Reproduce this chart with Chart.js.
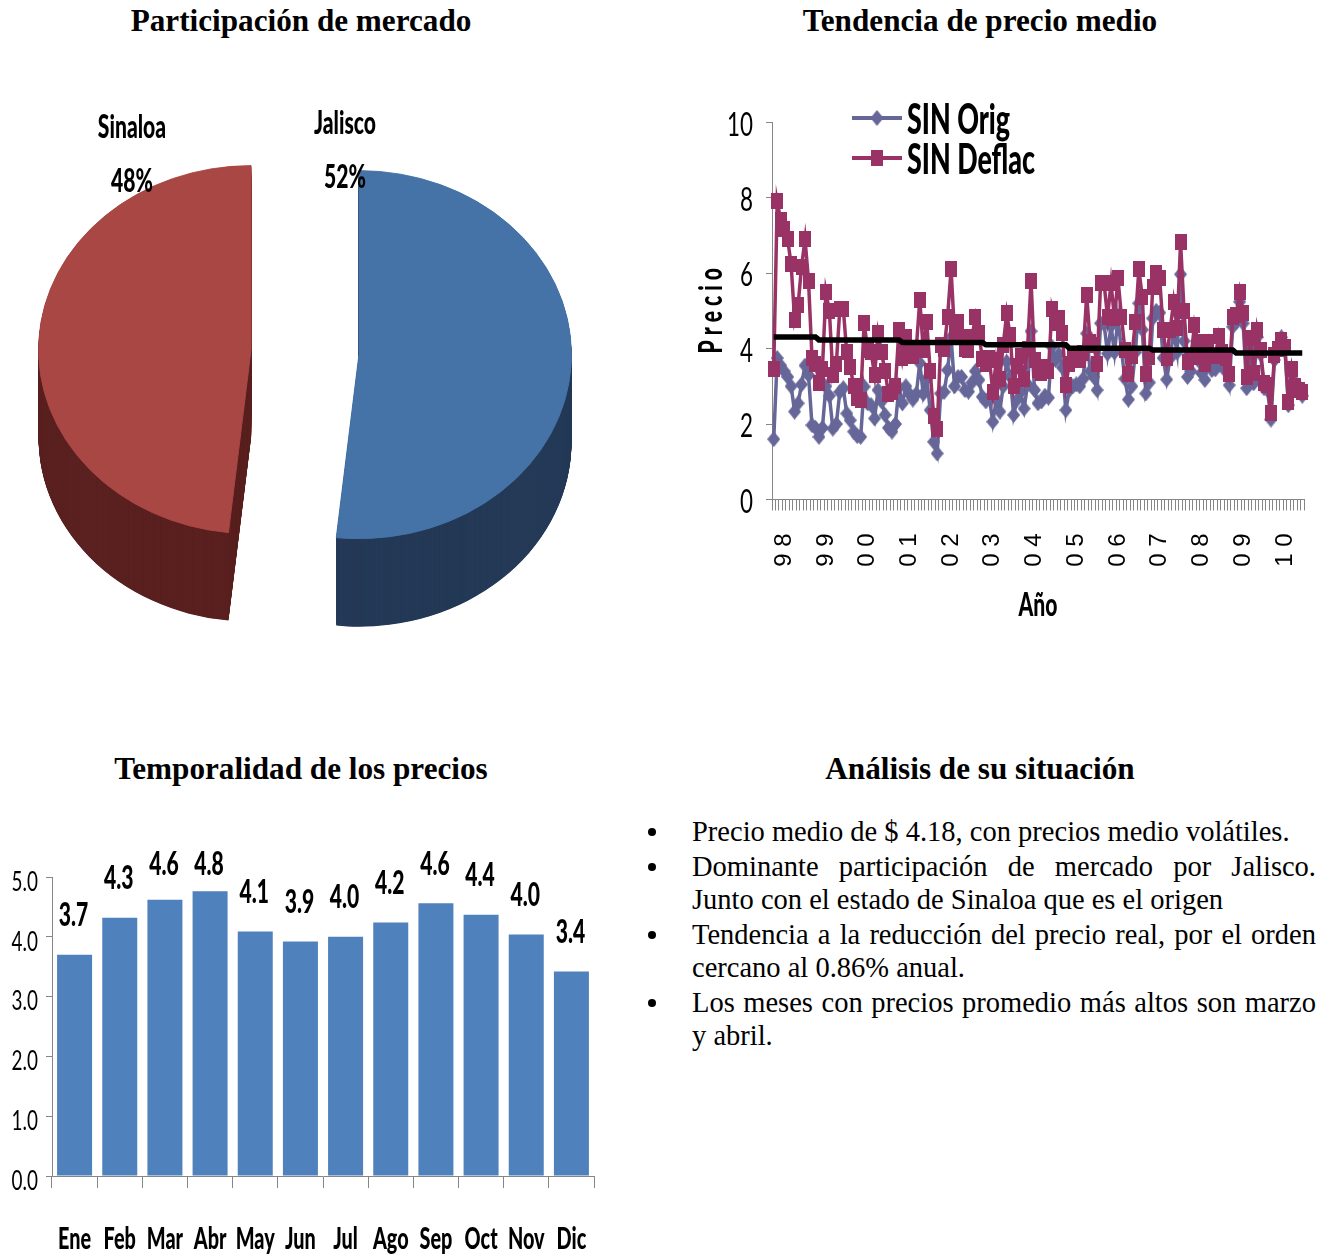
<!DOCTYPE html>
<html lang="es">
<head>
<meta charset="utf-8">
<title>Participación de mercado</title>
<script src="https://cdn.jsdelivr.net/npm/chart.js@4"></script>
<style>
html, body { margin: 0; padding: 0; background: #fff; overflow: hidden; }
body { position: relative; width: 1336px; height: 1256px; font-family: "Liberation Serif", serif; color: #000; }
canvas { position: absolute; }
h2 { position: absolute; margin: 0; font-size: 31.2px; line-height: 34px; text-align: center; white-space: nowrap; transform: translateX(-50%); }
ul { position: absolute; left: 692px; top: 815px; width: 624px; margin: 0; padding: 0; list-style: none; font-size: 28.5px; line-height: 33px; text-align: justify; }
li { position: relative; margin-bottom: 2px; }
li::before { content: ""; position: absolute; left: -44px; top: 13px; width: 8px; height: 8px; border-radius: 50%; background: #000; }
</style>
</head>
<body>
<h2 style="left:301px;top:4px">Participación de mercado</h2>
<h2 style="left:980px;top:4px">Tendencia de precio medio</h2>
<h2 style="left:301px;top:752px">Temporalidad de los precios</h2>
<h2 style="left:980px;top:752px">Análisis de su situación</h2>
<canvas id="pie-chart" style="left:0;top:47px"></canvas>
<canvas id="line-chart" style="left:660px;top:90px"></canvas>
<canvas id="bar-chart" style="left:0;top:820px"></canvas>
<ul>
  <li>Precio medio de $ 4.18, con precios medio volátiles.</li>
  <li>Dominante participación de mercado por Jalisco. Junto con el estado de Sinaloa que es el origen</li>
  <li>Tendencia a la reducción del precio real, por el orden cercano al 0.86% anual.</li>
  <li>Los meses con precios promedio más altos son marzo y abril.</li>
</ul>
<script>
const pieLabels = ['Jalisco', 'Sinaloa'];
const pieValues = [51.7, 48.3];

const yearTicks = ['9 8', '9 9', '0 0', '0 1', '0 2', '0 3', '0 4', '0 5', '0 6', '0 7', '0 8', '0 9', '1 0'];
const sinOrig = [
  1.60, 3.75, 3.55, 3.40, 3.25, 3.00, 2.33, 2.55, 3.05, 3.55, 3.30, 1.97, 1.90, 1.66, 1.90, 3.00,
  2.75, 1.88, 2.00, 2.85, 2.95, 2.28, 2.10, 1.80, 1.68, 1.66, 2.99, 2.55, 2.50, 2.15, 2.90, 2.60,
  2.24, 1.90, 1.80, 2.00, 2.97, 2.55, 3.00, 2.80, 2.65, 2.80, 3.62, 2.80, 3.20, 2.37, 1.53, 1.22,
  2.81, 2.85, 3.43, 4.30, 3.00, 3.25, 3.25, 2.90, 2.86, 3.10, 3.40, 3.17, 2.72, 2.60, 2.70, 2.06,
  2.65, 2.33, 3.00, 3.65, 3.25, 2.24, 2.65, 2.85, 2.41, 3.05, 4.46, 2.90, 2.55, 2.60, 2.75, 2.70,
  4.05, 3.70, 3.85, 3.50, 2.37, 2.90, 3.00, 3.05, 3.00, 3.20, 4.40, 3.40, 3.25, 2.90, 4.67, 4.65,
  3.87, 4.60, 3.90, 4.80, 3.95, 3.20, 2.65, 3.00, 3.90, 5.20, 4.50, 2.81, 3.10, 4.80, 5.00, 4.95,
  3.75, 3.18, 3.75, 4.45, 3.90, 5.97, 4.20, 3.25, 3.40, 3.95, 3.70, 3.35, 3.17, 3.70, 3.43, 3.45,
  3.90, 3.55, 3.40, 3.03, 4.58, 4.70, 5.24, 4.67, 2.95, 4.00, 3.08, 4.30, 3.85, 2.95, 2.90, 2.12,
  3.70, 3.95, 4.30, 4.00, 2.50, 3.35, 3.10, 2.85, 2.75
];
const sinDeflac = [
  3.46, 7.90, 7.40, 7.18, 6.90, 6.23, 4.77, 5.15, 6.17, 6.90, 5.80, 3.76, 3.60, 3.10, 3.47, 5.50,
  5.00, 3.30, 3.60, 5.04, 5.06, 3.90, 3.52, 3.00, 2.70, 2.65, 4.69, 3.96, 3.90, 3.30, 4.40, 3.90,
  3.40, 2.80, 2.85, 3.00, 4.50, 3.74, 4.30, 4.00, 3.80, 4.00, 5.30, 3.96, 4.70, 3.40, 2.20, 1.86,
  4.10, 4.00, 4.84, 6.10, 4.40, 4.70, 4.30, 4.00, 3.95, 4.30, 4.84, 4.40, 3.73, 3.60, 3.75, 2.85,
  3.70, 3.20, 4.10, 4.93, 4.35, 3.00, 3.55, 3.80, 3.20, 4.00, 5.80, 3.70, 3.43, 3.34, 3.50, 3.40,
  5.06, 4.67, 4.80, 4.42, 3.03, 3.60, 3.78, 3.78, 3.70, 3.87, 5.43, 4.18, 4.10, 3.60, 5.73, 5.73,
  4.84, 5.73, 4.80, 5.86, 4.84, 3.95, 3.33, 3.80, 4.71, 6.10, 5.37, 3.33, 3.78, 5.64, 6.00, 5.86,
  4.49, 3.74, 4.49, 5.24, 4.55, 6.83, 5.00, 3.65, 3.78, 4.62, 4.18, 3.78, 3.60, 4.18, 3.80, 3.80,
  4.34, 3.90, 3.75, 3.33, 4.84, 4.90, 5.50, 4.93, 3.25, 4.27, 3.34, 4.49, 3.96, 3.08, 3.03, 2.30,
  3.83, 4.00, 4.22, 4.05, 2.59, 3.47, 3.00, 2.90, 2.85
];
const trend = [
  4.31, 4.31, 4.31, 4.31, 4.31, 4.31, 4.31, 4.31, 4.31, 4.31, 4.31, 4.31, 4.31, 4.23, 4.23, 4.23,
  4.23, 4.23, 4.23, 4.23, 4.23, 4.23, 4.23, 4.23, 4.23, 4.23, 4.23, 4.23, 4.23, 4.23, 4.23, 4.23,
  4.23, 4.23, 4.23, 4.23, 4.23, 4.16, 4.16, 4.16, 4.16, 4.16, 4.16, 4.16, 4.16, 4.16, 4.16, 4.16,
  4.16, 4.16, 4.16, 4.16, 4.16, 4.16, 4.16, 4.16, 4.16, 4.16, 4.16, 4.16, 4.16, 4.10, 4.10, 4.10,
  4.10, 4.10, 4.10, 4.10, 4.10, 4.10, 4.10, 4.10, 4.10, 4.10, 4.10, 4.10, 4.10, 4.10, 4.10, 4.10,
  4.10, 4.10, 4.10, 4.10, 4.10, 4.01, 4.01, 4.01, 4.01, 4.01, 4.01, 4.01, 4.01, 4.01, 4.01, 4.01,
  4.01, 4.01, 4.01, 4.01, 4.01, 4.01, 4.01, 4.01, 4.01, 4.01, 4.01, 4.01, 4.01, 3.96, 3.96, 3.96,
  3.96, 3.96, 3.96, 3.96, 3.96, 3.96, 3.96, 3.96, 3.96, 3.96, 3.96, 3.96, 3.96, 3.96, 3.96, 3.96,
  3.96, 3.96, 3.96, 3.96, 3.96, 3.88, 3.88, 3.88, 3.88, 3.88, 3.88, 3.88, 3.88, 3.88, 3.88, 3.88,
  3.88, 3.88, 3.88, 3.88, 3.88, 3.88, 3.88, 3.88, 3.88
];

const months = ['Ene', 'Feb', 'Mar', 'Abr', 'May', 'Jun', 'Jul', 'Ago', 'Sep', 'Oct', 'Nov', 'Dic'];
const monthValues = [3.70, 4.32, 4.62, 4.76, 4.09, 3.92, 4.00, 4.24, 4.56, 4.37, 4.04, 3.42];

const NARROW = 'Lato, sans-serif';
const GREY = '#868686';

// the original text is squashed sideways, there is no condensed font here,
// so every Lato string is drawn with a horizontal scale
function sizeCanvas(id, w, h) {
  const canvas = document.getElementById(id);
  canvas.width = w;
  canvas.height = h;
  canvas.style.width = w + 'px';
  canvas.style.height = h + 'px';
  const ctx = canvas.getContext('2d');
  const fillText = ctx.fillText;
  ctx.fillText = function (text, x, y) {
    if (!this.font.includes('Lato')) {
      fillText.call(this, text, x, y);
      return;
    }
    this.save();
    this.translate(x, y);
    this.scale(this.font.includes('900') ? 0.64 : 0.7, 1);
    fillText.call(this, text, 0, 0);
    this.restore();
  };
  return ctx;
}

// the axis keeps its fixed size and runs right to the edge of the plot
function fixX(height) {
  return scale => {
    scale.height = height;
    scale.paddingLeft = 0;
    scale.paddingRight = 0;
  };
}

// pie: squashed circle with a dark extrusion under it, slices pulled apart by hand
// because the arc offset option also shrinks the slice angle
const pieSquash = 0.866;
const pieDepth = 88;
const pieExplode = 54;
const pieTop = ['#4573A7', '#A94744'];
const pieSide = ['#243A57', '#5A2120'];
const pieTextAt = [[345, 76, 130], [132, 80, 134]];

const pie3d = {
  id: 'pie3d',
  beforeDatasetsDraw(chart) {
    const ctx = chart.ctx;
    const cy = (chart.chartArea.top + chart.chartArea.bottom) / 2 + 1;
    const drawArc = (arc, dy) => {
      const mid = (arc.startAngle + arc.endAngle) / 2;
      ctx.save();
      ctx.translate(0, dy + cy);
      ctx.scale(1, pieSquash);
      ctx.translate(Math.cos(mid) * pieExplode, Math.sin(mid) * pieExplode - cy);
      arc.draw(ctx);
      ctx.restore();
    };
    const arcs = chart.getDatasetMeta(0).data;
    arcs.forEach((arc, i) => {
      const side = Object.create(arc);
      side.options = Object.assign({}, arc.options, { backgroundColor: pieSide[i], borderWidth: 0 });
      for (let d = pieDepth; d > 0; d -= 0.5) drawArc(side, d);
    });
    arcs.forEach(arc => drawArc(arc, 0));
    return false;
  },
  afterDraw(chart) {
    const ctx = chart.ctx;
    ctx.save();
    ctx.fillStyle = '#000';
    ctx.textAlign = 'center';
    ctx.textBaseline = 'middle';
    ctx.font = '900 33px ' + NARROW;
    pieLabels.forEach((name, i) => {
      const [x, y1, y2] = pieTextAt[i];
      ctx.fillText(name, x, y1);
      ctx.fillText(pieValues[i].toFixed(0) + '%', x, y2);
    });
    ctx.restore();
  }
};

new Chart(sizeCanvas('pie-chart', 610, 610), {
  type: 'pie',
  data: {
    labels: pieLabels,
    datasets: [{ data: pieValues, backgroundColor: pieTop, borderColor: pieTop, borderWidth: 1 }]
  },
  options: {
    responsive: false,
    animation: false,
    radius: 212.5,
    plugins: { legend: { display: false }, tooltip: { enabled: false } }
  },
  plugins: [pie3d]
});

// line markers are stretched taller than wide, so they are small canvases
function makeMarker(color, shape) {
  const c = document.createElement('canvas');
  c.width = shape === 'rect' ? 12 : 13;
  c.height = 16;
  const g = c.getContext('2d');
  g.fillStyle = color;
  if (shape === 'rect') {
    g.fillRect(0, 0, c.width, c.height);
  } else {
    g.beginPath();
    g.moveTo(c.width / 2, 0);
    g.lineTo(c.width, c.height / 2);
    g.lineTo(c.width / 2, c.height);
    g.lineTo(0, c.height / 2);
    g.closePath();
    g.fill();
  }
  return c;
}

const ORIG_COLOR = '#666699';
const DEFLAC_COLOR = '#993366';
const origMarker = makeMarker(ORIG_COLOR, 'diamond');
const deflacMarker = makeMarker(DEFLAC_COLOR, 'rect');

const lineLegend = {
  id: 'lineLegend',
  afterDraw(chart) {
    const ctx = chart.ctx;
    [[0, 28, origMarker], [1, 68, deflacMarker]].forEach(([i, y, marker]) => {
      ctx.save();
      ctx.strokeStyle = chart.data.datasets[i].borderColor;
      ctx.lineWidth = 4;
      ctx.beginPath();
      ctx.moveTo(192, y);
      ctx.lineTo(242, y);
      ctx.stroke();
      ctx.drawImage(marker, 217 - marker.width / 2, y - marker.height / 2);
      ctx.fillStyle = '#000';
      ctx.font = '900 42px ' + NARROW;
      ctx.textBaseline = 'middle';
      ctx.fillText(chart.data.datasets[i].label, 247, y + 2);
      ctx.restore();
    });
  }
};

const lineLabels = sinDeflac.map((v, i) => (i % 12 === 3 ? yearTicks[(i - 3) / 12] : ''));

new Chart(sizeCanvas('line-chart', 660, 540), {
  type: 'line',
  data: {
    labels: lineLabels,
    datasets: [
      { label: 'SIN Orig', data: sinOrig, borderColor: ORIG_COLOR, backgroundColor: ORIG_COLOR, borderWidth: 3.5, pointStyle: origMarker, pointRadius: 6, order: 3 },
      { label: 'SIN Deflac', data: sinDeflac, borderColor: DEFLAC_COLOR, backgroundColor: DEFLAC_COLOR, borderWidth: 3.5, pointStyle: deflacMarker, pointRadius: 6, order: 2 },
      { label: 'Media', data: trend, borderColor: '#000', borderWidth: 5.5, pointRadius: 0, order: 1 }
    ]
  },
  options: {
    responsive: false,
    animation: false,
    layout: { autoPadding: false, padding: { top: 32, right: 16 } },
    plugins: { legend: { display: false }, tooltip: { enabled: false } },
    scales: {
      x: {
        offset: true,
        afterFit: fixX(130.5),
        grid: { offset: true, drawOnChartArea: false, tickLength: 11, color: GREY },
        border: { color: GREY },
        ticks: { autoSkip: false, minRotation: 90, maxRotation: 90, padding: 23, color: '#000', font: { family: 'Liberation Sans', size: 24 } },
        title: { display: true, text: 'Año', color: '#000', font: { family: NARROW, size: 33, weight: '900' }, padding: { bottom: 5 } }
      },
      y: {
        min: 0,
        max: 10,
        afterFit(scale) { scale.width = 112; },
        grid: { drawOnChartArea: false, tickLength: 6, color: GREY },
        border: { color: GREY },
        ticks: { stepSize: 2, padding: 13, labelOffset: 3, color: '#000', font: { family: NARROW, size: 32 } },
        title: { display: true, text: 'P r e c i o', color: '#000', font: { family: NARROW, size: 33, weight: '900' }, padding: { top: 32 } }
      }
    }
  },
  plugins: [lineLegend]
});

// value labels above the bars, the tallest ones stop at a common height
const barLabelTop = 44;
const barLabels = {
  id: 'barLabels',
  afterDatasetsDraw(chart) {
    const ctx = chart.ctx;
    ctx.save();
    ctx.fillStyle = '#000';
    ctx.font = '900 33px ' + NARROW;
    ctx.textAlign = 'center';
    ctx.textBaseline = 'middle';
    chart.getDatasetMeta(0).data.forEach((bar, i) => {
      ctx.fillText(monthValues[i].toFixed(1), bar.x - 1, Math.max(bar.y - 39, barLabelTop));
    });
    ctx.restore();
  }
};

new Chart(sizeCanvas('bar-chart', 610, 436), {
  type: 'bar',
  data: {
    labels: months,
    datasets: [{ data: monthValues, backgroundColor: '#4F81BD', categoryPercentage: 1, barPercentage: 0.775 }]
  },
  options: {
    responsive: false,
    animation: false,
    layout: { autoPadding: false, padding: { top: 57, right: 16 } },
    plugins: { legend: { display: false }, tooltip: { enabled: false } },
    scales: {
      x: {
        afterFit: fixX(80),
        grid: { drawOnChartArea: false, tickLength: 12, color: GREY },
        border: { color: GREY },
        ticks: { autoSkip: false, maxRotation: 0, padding: 32, color: '#000', font: { family: NARROW, size: 31, weight: '900' } }
      },
      y: {
        min: 0,
        max: 5,
        afterFit(scale) { scale.width = 52; },
        grid: { drawOnChartArea: false, tickLength: 6, color: GREY },
        border: { color: GREY },
        ticks: { stepSize: 1, padding: 8, labelOffset: 5, color: '#000', font: { family: NARROW, size: 27 }, callback: v => v.toFixed(1) }
      }
    }
  },
  plugins: [barLabels]
});
</script>
</body>
</html>
